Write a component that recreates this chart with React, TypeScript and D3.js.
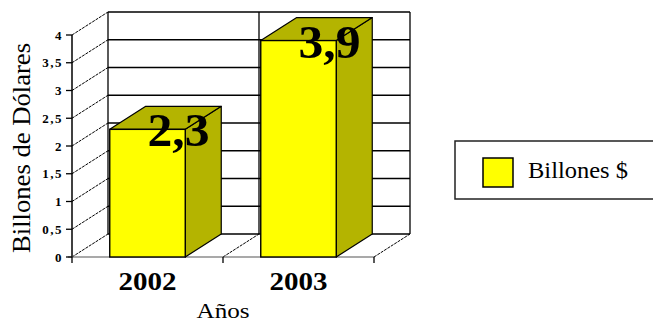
import React from "react";
import * as d3 from "d3";

const categories = ["2002", "2003"];
const values = [2.3, 3.9];
const valueLabels = ["2,3", "3,9"];
const yTicks = [0, 0.5, 1, 1.5, 2, 2.5, 3, 3.5, 4];
const yTickLabels = ["0", "0,5", "1", "1,5", "2", "2,5", "3", "3,5", "4"];
const seriesName = "Billones $";
const yTitle = "Billones de Dólares";
const xTitle = "Años";

const W = 653;
const H = 323;
const DX = 36;
const DY = -23;
const FONT = '"Liberation Serif", "DejaVu Serif", "Times New Roman", Times, serif';
const YELLOW = "#FFFF00";
const OLIVE = "#B4B400";

export default function App() {
  const x = d3.scaleBand<string>().domain(categories).range([72, 374]).paddingInner(0).paddingOuter(0);
  const y = d3.scaleLinear().domain([0, 4]).range([257, 35]);
  const bw = x.bandwidth() * 0.5;
  const x0 = 72, x1 = 374;
  const y0 = y(0), yTop = y(4);

  const pts = (arr: [number, number][]) => arr.map((p) => p.join(",")).join(" ");
  const ts = { fontFamily: FONT };

  return (
    <svg width={W} height={H} style={{ position: "fixed", left: 0, top: 0, background: "#fff", fontFamily: FONT }}>
      <rect x={0} y={0} width={W} height={H} fill="#fff" />
      {/* back wall gridlines */}
      {yTicks.map((t, i) => (
        <line key={"bg" + i} x1={x0 + DX} x2={x1 + DX} y1={y(t) + DY} y2={y(t) + DY} stroke="#000" strokeWidth={1.3} />
      ))}
      <line x1={x0 + DX} x2={x0 + DX} y1={yTop + DY} y2={y0 + DY} stroke="#000" strokeWidth={1.3} />
      {categories.map((c, i) => (
        <line key={"bv" + i} x1={(x(c) as number) + x.bandwidth() + DX} x2={(x(c) as number) + x.bandwidth() + DX} y1={yTop + DY} y2={y0 + DY} stroke="#000" strokeWidth={1.3} />
      ))}
      {/* left wall diagonals */}
      {yTicks.map((t, i) => (
        <line key={"lw" + i} x1={x0} y1={y(t)} x2={x0 + DX} y2={y(t) + DY} stroke="#000" strokeWidth={1} strokeDasharray="3,1" />
      ))}
      {/* floor diagonals */}
      {categories.map((c, i) => {
        const xe = (x(c) as number) + x.bandwidth();
        return <line key={"fd" + i} x1={xe} y1={y0} x2={xe + DX} y2={y0 + DY} stroke="#000" strokeWidth={1} strokeDasharray="3,1" />;
      })}
      {/* front axis */}
      <line x1={x0} x2={x0} y1={yTop} y2={y0} stroke="#000" strokeWidth={1.5} />
      <line x1={x0 - 4} x2={x1} y1={y0} y2={y0} stroke="#555" strokeWidth={1.2} />
      {yTicks.map((t, i) => (
        <line key={"yt" + i} x1={x0 - 6} x2={x0} y1={y(t)} y2={y(t)} stroke="#000" strokeWidth={1.3} />
      ))}
      {[x0, ...categories.map((c) => (x(c) as number) + x.bandwidth())].map((xx, i) => (
        <line key={"xt" + i} x1={xx} x2={xx} y1={y0} y2={y0 + 6} stroke="#000" strokeWidth={1.3} />
      ))}
      {yTickLabels.map((l, i) => (
        <text key={"yl" + i} style={ts} x={63} y={y(yTicks[i])} dy="0.35em" textAnchor="end" fontSize={13} fontWeight="bold" letterSpacing={1.5}>
          {l}
        </text>
      ))}
      {/* bars */}
      {categories.map((c, i) => {
        const bx = (x(c) as number) + (x.bandwidth() - bw) / 2;
        const by = y(values[i]);
        const side: [number, number][] = [[bx + bw, by], [bx + bw + DX, by + DY], [bx + bw + DX, y0 + DY], [bx + bw, y0]];
        const top: [number, number][] = [[bx, by], [bx + DX, by + DY], [bx + bw + DX, by + DY], [bx + bw, by]];
        return (
          <g key={"bar" + i}>
            <polygon points={pts(side)} fill={OLIVE} stroke="#000" strokeWidth={1.2} strokeLinejoin="round" />
            <polygon points={pts(top)} fill={OLIVE} stroke="#000" strokeWidth={1.2} strokeLinejoin="round" />
            <rect x={bx} y={by} width={bw} height={y0 - by} fill={YELLOW} stroke="#000" strokeWidth={1.4} />
          </g>
        );
      })}
      {/* value labels */}
      {categories.map((c, i) => {
        const cx = (x(c) as number) + x.bandwidth() / 2 + 31;
        return (
          <text key={"vl" + i} style={ts} x={cx} y={y(values[i]) + 17} textAnchor="middle" fontSize={47} fontWeight="bold" textLength={62} lengthAdjust="spacingAndGlyphs">
            {valueLabels[i]}
          </text>
        );
      })}
      {/* category labels */}
      {categories.map((c, i) => (
        <text key={"cl" + i} style={ts} x={(x(c) as number) + x.bandwidth() / 2} y={290} textAnchor="middle" fontSize={25} fontWeight="bold" textLength={58} lengthAdjust="spacingAndGlyphs">
          {c}
        </text>
      ))}
      <text style={ts} x={(x0 + x1) / 2} y={318} textAnchor="middle" fontSize={21} textLength={53} lengthAdjust="spacingAndGlyphs">
        {xTitle}
      </text>
      <text style={ts} transform={`translate(30,148) rotate(-90)`} textAnchor="middle" fontSize={25} textLength={210} lengthAdjust="spacingAndGlyphs">
        {yTitle}
      </text>
      {/* legend */}
      <rect x={455} y={141} width={260} height={58} fill="#fff" stroke="#222" strokeWidth={1.5} />
      <rect x={483} y={158} width={30} height={29} fill={YELLOW} stroke="#000" strokeWidth={1.5} />
      <text style={ts} x={528} y={178} fontSize={23} textLength={100} lengthAdjust="spacingAndGlyphs">
        {seriesName}
      </text>
    </svg>
  );
}
